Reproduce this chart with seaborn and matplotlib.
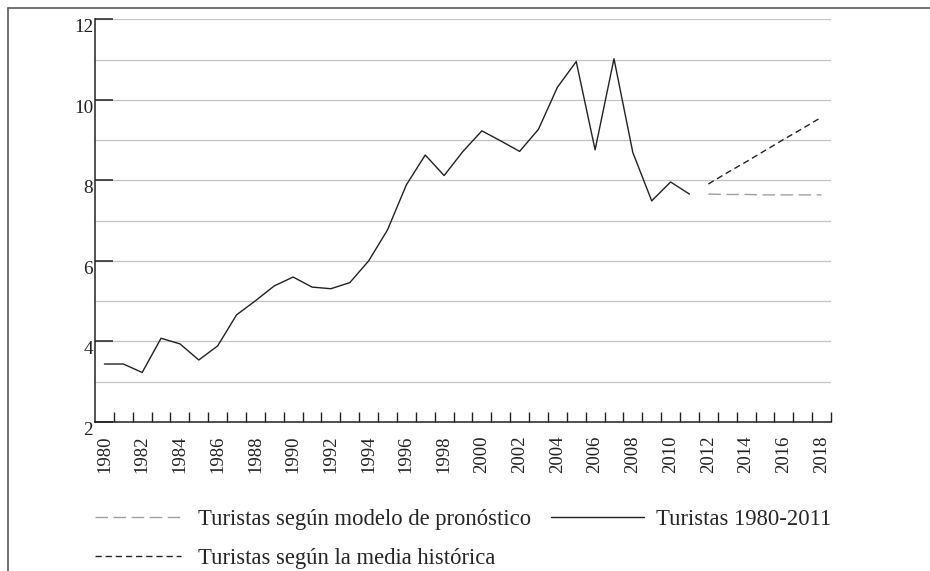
import matplotlib
matplotlib.use("Agg")
import matplotlib.pyplot as plt
from matplotlib.lines import Line2D
import seaborn as sns

# ---------- data (millions of tourists) ----------
years_hist = list(range(1980, 2012))
tourists = [3.44, 3.44, 3.23, 4.08, 3.94, 3.54, 3.89, 4.66, 5.01, 5.38,
            5.60, 5.35, 5.31, 5.46, 6.00, 6.77, 7.89, 8.63, 8.12, 8.72,
            9.23, 8.98, 8.72, 9.27, 10.31, 10.95, 8.76, 11.02, 8.69, 7.49,
            7.96, 7.66]

years_fc = list(range(2012, 2019))
forecast_model = [7.66, 7.65, 7.65, 7.64, 7.64, 7.64, 7.64]
hist_mean = [7.91, 8.19, 8.46, 8.74, 9.02, 9.29, 9.57]

year_labels = list(range(1980, 2019, 2))
y_ticks = [2, 4, 6, 8, 10, 12]

lbl_hist = "Turistas 1980-2011"
lbl_model = "Turistas según modelo de pronóstico"
lbl_mean = "Turistas según la media histórica"

# ---------- style ----------
sns.set_style("white")
plt.rcParams['font.family'] = ['Liberation Serif', 'DejaVu Serif']
ink = "#222222"

fig = plt.figure(figsize=(9.3, 5.71), dpi=100)
ax = fig.add_axes([95/930, 1 - 422/571, (831 - 95)/930, (422 - 19.3)/571])

sns.lineplot(x=years_hist, y=tourists, ax=ax, color=ink, lw=1.0, label=lbl_hist)
sns.lineplot(x=years_fc, y=forecast_model, ax=ax, color="#a0a0a0", lw=1.0,
             label=lbl_model).lines[-1].set_dashes((9, 4))
sns.lineplot(x=years_fc, y=hist_mean, ax=ax, color=ink, lw=1.0,
             label=lbl_mean).lines[-1].set_dashes((4.5, 2.8))
ax.get_legend().remove()

# ---------- axes ----------
ax.set_xlim(1979.5, 2018.5)
ax.set_ylim(2, 12)
ax.set_xticks(year_labels)
ax.set_xticklabels([str(y) for y in year_labels], rotation=90, fontsize=13.5)
ax.set_xticks([y + 0.5 for y in range(1980, 2019)], minor=True)
ax.tick_params(axis='x', which='major', bottom=True, length=0, pad=9.5, colors=ink)
ax.tick_params(axis='x', which='minor', bottom=True, direction='in', length=7.2,
               width=1.0, color=ink)

ax.set_yticks(y_ticks)
ax.set_yticklabels([str(v) for v in y_ticks], fontsize=13.8)
ax.set_yticks(list(range(3, 12, 2)), minor=True)
ax.tick_params(axis='y', which='major', left=True, direction='in', length=13,
               width=1.1, pad=1.5, colors=ink)
ax.tick_params(axis='y', which='minor', left=False, length=0)
for t in ax.get_yticklabels():
    t.set_va('top')

ax.grid(axis='y', which='both', color="#c4c4c4", lw=0.9)
ax.grid(axis='x', visible=False)
ax.set_axisbelow(True)
for s in ['top', 'right']:
    ax.spines[s].set_visible(False)
for s in ['left', 'bottom']:
    ax.spines[s].set_color(ink)
    ax.spines[s].set_linewidth(1.1)
ax.set_xlabel("")
ax.set_ylabel("")

# ---------- legends ----------
h, l = ax.get_legend_handles_labels()
hd = dict(zip(l, h))
fs = 16.3
fig.legend([hd[lbl_model], hd[lbl_mean]], [lbl_model, lbl_mean],
           loc='upper left', bbox_to_anchor=(95/930, 1 - 509/571),
           frameon=False, fontsize=fs, handlelength=3.8, handletextpad=0.75,
           labelspacing=0.78, borderpad=0, borderaxespad=0)
fig.legend([hd[lbl_hist]], [lbl_hist],
           loc='upper left', bbox_to_anchor=(551/930, 1 - 509/571),
           frameon=False, fontsize=fs, handlelength=4.1, handletextpad=0.55,
           borderpad=0, borderaxespad=0)

# ---------- outer frame ----------
fx, fy = 7.7/930, 1 - 7.7/571
fig.add_artist(Line2D([fx, fx], [fy, 0], transform=fig.transFigure, color="#5a5a5a", lw=1.2))
fig.add_artist(Line2D([fx, 1], [fy, fy], transform=fig.transFigure, color="#5a5a5a", lw=1.2))

fig.savefig("out.png", dpi=100)
